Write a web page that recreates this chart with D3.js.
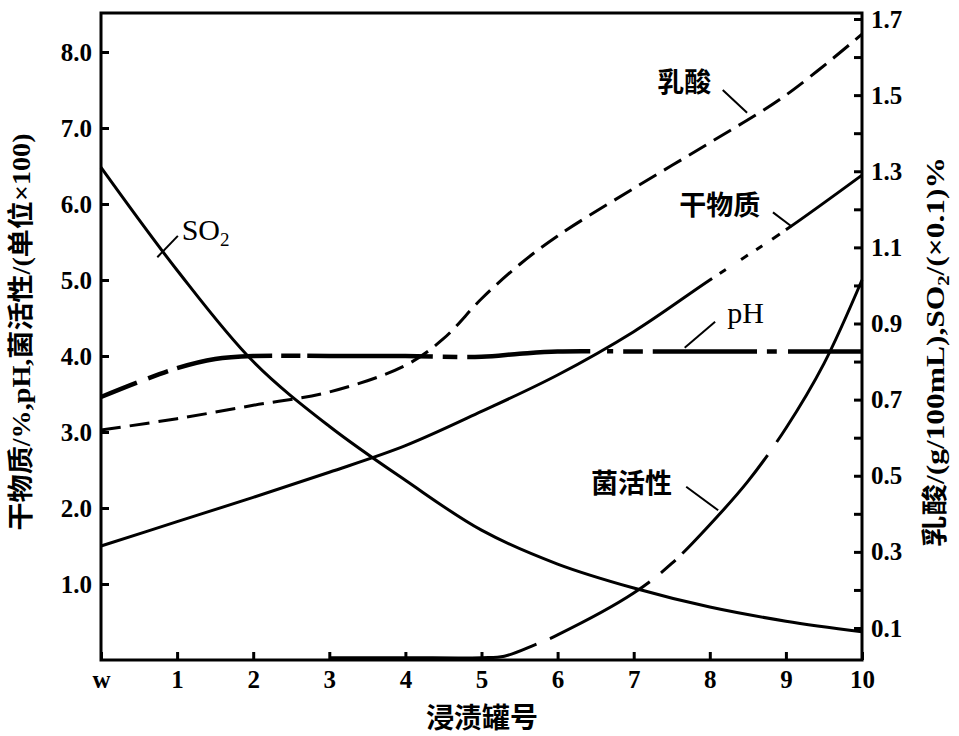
<!DOCTYPE html>
<html><head><meta charset="utf-8">
<script src="https://cdn.jsdelivr.net/npm/d3@7"></script>
<style>body{margin:0;background:#fff}</style>
</head><body><svg id="c" width="959" height="736"></svg>
<script>
// ---- data ----
const xLabels = ["w","1","2","3","4","5","6","7","8","9","10"];
const xValues = [0,1,2,3,4,5,6,7,8,9,10];
const leftTicks = [1,2,3,4,5,6,7,8];
const rightTicksMajor = [0.1,0.3,0.5,0.7,0.9,1.1,1.3,1.5,1.7];
const rightTicksMinor = [0.2,0.4,0.6,0.8,1.0,1.2,1.4,1.6];

// 干物质 (left axis)
const dryX = [0,1,2,3,4,5,6,7,8,9,10];
const dryMatter = [1.5,1.82,2.14,2.47,2.82,3.27,3.75,4.32,5.0,5.66,6.38];
// pH (left axis)
const phX = [0,0.5,1,1.5,2,3,4,5,5.5,6,7,8,9,10];
const phValues = [3.46,3.66,3.84,3.96,4.0,4.0,4.0,3.99,4.03,4.06,4.06,4.06,4.06,4.06];
// 菌活性 (left axis)
const bactX = [3,4,5,5.3,5.7,6,7,7.5,8,8.5,9,9.5,10];
const bacteria = [0.03,0.03,0.03,0.05,0.2,0.33,0.88,1.27,1.78,2.35,3.05,3.9,5.0];
// 乳酸 (right axis)
const lacticX = [0,1,2,3,4,4.5,5,5.5,6,7,8,9,10];
const lactic = [0.62,0.65,0.685,0.72,0.79,0.86,0.965,1.055,1.13,1.255,1.375,1.50,1.66];
// SO2 (right axis)
const so2X = [0,1,2,3,4,5,6,7,8,9,10];
const so2 = [1.31,1.04,0.80,0.63,0.488,0.357,0.268,0.205,0.155,0.118,0.09];

// gaps in the broken line styles (x in 罐号 units)
const phGaps = [[0.47,0.62],[0.88,1.0],[2.25,2.37],[2.62,2.71],[4.36,4.49],[4.68,4.81],[6.43,6.65],[6.73,6.86],[7.12,7.25],[8.62,8.75],[8.88,9.03]];
const bactGaps = [[5.72,5.90],[7.21,7.36],[7.55,7.64],[8.76,8.88]];
const dryGaps = [[8.03,8.13],[8.21,8.41],[8.5,8.61],[8.69,8.82],[8.92,9.0]];

// annotations (left-axis units): text pos and leader line
const annotations = [
  {text:"SO", sub:"2", tx:1.06, ty:5.53, x1:0.74, y1:5.30, x2:1.01, y2:5.58, latin:true},
  {text:"乳酸", tx:7.31, ty:7.47, x1:8.49, y1:7.2, x2:8.17, y2:7.5},
  {text:"干物质", tx:7.6, ty:5.85, x1:9.08, y1:5.70, x2:8.83, y2:5.89},
  {text:"pH", tx:8.23, ty:4.43, x1:7.67, y1:4.11, x2:8.07, y2:4.45, latin:true},
  {text:"菌活性", tx:6.44, ty:2.2, x1:8.11, y1:1.97, x2:7.69, y2:2.28}
];

// ---- scales ----
const svg = d3.select("#c");
const x = d3.scaleLinear().domain([0,10]).range([101,862]);
const yL = d3.scaleLinear().domain([0,8.5]).range([660,14]);
const yR = d3.scaleLinear().domain([0.1,1.7]).range([628,19]);

const serif = "'Liberation Serif','Times New Roman',serif";
const cjk = "'Liberation Serif','Noto Sans CJK SC',serif";

// frame
svg.append("rect").attr("x",x(0)).attr("y",13).attr("width",x(10)-x(0)).attr("height",yL(0)-13)
  .attr("fill","none").attr("stroke","#000").attr("stroke-width",3);

function styleAxis(g){
  g.select(".domain").remove();
  g.selectAll(".tick line").attr("stroke","#000").attr("stroke-width",3);
  g.selectAll(".tick text").attr("font-family",serif).attr("font-weight","bold").attr("font-size",25).attr("fill","#000");
}
svg.append("g").attr("transform",`translate(${x(0)},0)`)
  .call(d3.axisLeft(yL).tickValues(leftTicks).tickFormat(d3.format(".1f")).tickSizeInner(-8).tickSizeOuter(0).tickPadding(9))
  .call(styleAxis);
svg.append("g").attr("transform",`translate(${x(10)},0)`)
  .call(d3.axisRight(yR).tickValues(rightTicksMajor).tickFormat(d3.format(".1f")).tickSizeInner(-8).tickSizeOuter(0).tickPadding(9))
  .call(styleAxis);
svg.append("g").attr("transform",`translate(${x(10)},0)`)
  .call(d3.axisRight(yR).tickValues(rightTicksMinor).tickFormat("").tickSizeInner(-8).tickSizeOuter(0))
  .call(styleAxis);
svg.append("g").attr("transform",`translate(0,${yL(0)})`)
  .call(d3.axisBottom(x).tickValues(xValues).tickFormat((d,i)=>xLabels[i]).tickSizeInner(-8).tickSizeOuter(0).tickPadding(10))
  .call(styleAxis);

// lines
const curve = d3.curveCatmullRom.alpha(0.5);
function drawLine(xs, ys, yScale, width, dash){
  const data = xs.map((d,i)=>[d, ys[i]]);
  const p = svg.append("path").datum(data)
    .attr("d", d3.line().x(d=>x(d[0])).y(d=>yScale(d[1])).curve(curve))
    .attr("fill","none").attr("stroke","#000").attr("stroke-width",width)
    .attr("stroke-linejoin","round");
  if (dash) p.attr("stroke-dasharray",dash);
  return p;
}
// build a dasharray that leaves gaps over given x-intervals
function applyGaps(p, gaps){
  const node = p.node(), L = node.getTotalLength();
  function lenAt(px){ let lo=0,hi=L; for(let k=0;k<40;k++){const m=(lo+hi)/2; if(node.getPointAtLength(m).x<px) lo=m; else hi=m;} return lo; }
  const arr=[]; let pos=0;
  gaps.forEach(g=>{
    const a=lenAt(x(g[0])), b=lenAt(x(g[1]));
    arr.push(Math.max(a-pos,0.01), b-a); pos=b;
  });
  arr.push(L-pos+10, 0.01);
  p.attr("stroke-dasharray",arr.join(","));
}
drawLine(so2X, so2, yR, 3);
applyGaps(drawLine(dryX, dryMatter, yL, 3), dryGaps);
applyGaps(drawLine(phX, phValues, yL, 4.5), phGaps);
drawLine(lacticX, lactic, yR, 3, "20,9");
applyGaps(drawLine(bactX, bacteria, yL, 3), bactGaps);

// annotations
annotations.forEach(a=>{
  svg.append("line").attr("x1",x(a.x1)).attr("y1",yL(a.y1)).attr("x2",x(a.x2)).attr("y2",yL(a.y2))
    .attr("stroke","#000").attr("stroke-width",2);
  const t = svg.append("text").attr("x",x(a.tx)).attr("y",yL(a.ty)).attr("fill","#000");
  if (a.latin){
    t.attr("font-family",serif).attr("font-size",30);
    t.append("tspan").text(a.text);
    if (a.sub) t.append("tspan").attr("font-size",19).attr("dy",6).text(a.sub);
  } else {
    t.attr("font-family","'Noto Sans CJK SC',sans-serif").attr("font-weight","bold").attr("font-size",27).text(a.text);
  }
});

// axis titles
svg.append("text").attr("transform","translate(30,332) rotate(-90)")
  .attr("text-anchor","middle").attr("font-family",cjk).attr("font-weight","bold").attr("font-size",26)
  .attr("textLength",397).attr("lengthAdjust","spacingAndGlyphs")
  .text("干物质/%,pH,菌活性/(单位×100)");
const rt = svg.append("text").attr("transform","translate(944,352) rotate(-90)")
  .attr("text-anchor","middle").attr("font-family",cjk).attr("font-weight","bold").attr("font-size",26)
  .attr("textLength",390).attr("lengthAdjust","spacingAndGlyphs");
rt.append("tspan").text("乳酸/(g/100mL),SO");
rt.append("tspan").attr("font-size",17).attr("dy",5).text("2");
rt.append("tspan").attr("dy",-5).text("/(×0.1)%");
svg.append("text").attr("x",482).attr("y",728).attr("text-anchor","middle")
  .attr("font-family","'Noto Sans CJK SC',sans-serif").attr("font-weight","bold").attr("font-size",28)
  .text("浸渍罐号");
</script></body></html>
